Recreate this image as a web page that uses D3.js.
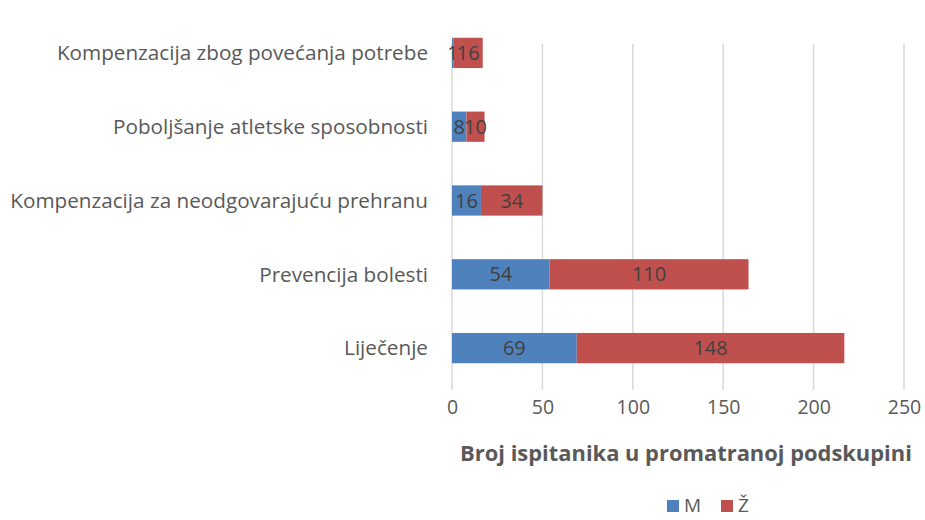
<!DOCTYPE html>
<html>
<head>
<meta charset="utf-8">
<script src="https://cdn.jsdelivr.net/npm/d3@7"></script>
<style>
  html, body { margin: 0; background: #fff; overflow: hidden; }
  svg { display: block; font-family: "Open Sans", Lato, sans-serif; }
</style>
</head>
<body>
<svg id="chart" width="925" height="520"></svg>
<script>
// categories listed top to bottom
var categories = ["Kompenzacija zbog povećanja potrebe", "Poboljšanje atletske sposobnosti",
  "Kompenzacija za neodgovarajuću prehranu", "Prevencija bolesti", "Liječenje"];
var valuesM = [1, 8, 16, 54, 69];
var valuesZ = [16, 10, 34, 110, 148];
var seriesNames = ["M", "Ž"];
var xTicks = [0, 50, 100, 150, 200, 250];

var colors = ["#4F81BD", "#C0504D"];
var svg = d3.select("#chart");

var x = d3.scaleLinear().domain([0, 250]).range([452, 904]);
var y = d3.scaleBand().domain(categories).range([16, 385]).paddingInner(0.59).paddingOuter(0.295);

// gridlines
svg.append("g").selectAll("line").data(xTicks).enter().append("line")
  .attr("x1", x).attr("x2", x).attr("y1", 44).attr("y2", 390)
  .attr("stroke", "#d9d9d9").attr("stroke-width", 1.5);

var rows = categories.map(function(c, i) { return {cat: c, m: valuesM[i], z: valuesZ[i]}; });
var stack = d3.stack().keys(["m", "z"])(rows);

stack.forEach(function(layer, li) {
  var g = svg.append("g");
  g.selectAll("rect").data(layer).enter().append("rect")
    .attr("x", function(d) { return x(d[0]); })
    .attr("width", function(d) { return x(d[1]) - x(d[0]); })
    .attr("y", function(d) { return y(d.data.cat); })
    .attr("height", y.bandwidth())
    .attr("fill", colors[li]);
  g.selectAll("text").data(layer).enter().append("text")
    .attr("x", function(d) { return (x(d[0]) + x(d[1])) / 2; })
    .attr("y", function(d) { return y(d.data.cat) + y.bandwidth() / 2; })
    .attr("dy", "0.35em")
    .attr("text-anchor", "middle")
    .attr("fill", "#404040")
    .style("font-size", "20px")
    .text(function(d) { return d[1] - d[0]; });
});

// category labels
svg.append("g").selectAll("text").data(categories).enter().append("text")
  .attr("x", 428)
  .attr("y", function(d) { return y(d) + y.bandwidth() / 2; })
  .attr("dy", "0.35em")
  .attr("text-anchor", "end")
  .attr("fill", "#595959")
  .style("font-size", "20.7px")
  .text(function(d) { return d; });

// x axis tick labels
var xAxis = d3.axisBottom(x).tickValues(xTicks).tickSize(0).tickPadding(0);
var ax = svg.append("g").attr("transform", "translate(0,400)").call(xAxis);
ax.select(".domain").remove();
ax.selectAll("text").attr("fill", "#595959").style("font-size", "19.5px")
  .style("font-family", "'Open Sans', Lato, sans-serif");

svg.append("text")
  .attr("x", 686).attr("y", 461)
  .attr("text-anchor", "middle")
  .attr("fill", "#595959")
  .style("font-size", "21.9px").style("font-weight", "bold")
  .text("Broj ispitanika u promatranoj podskupini");

// legend
var leg = svg.append("g").selectAll("g").data(seriesNames).enter().append("g")
  .attr("transform", function(d, i) { return "translate(" + (667 + i * 54) + ",500)"; });
leg.append("rect").attr("width", 12).attr("height", 12).attr("fill", function(d, i) { return colors[i]; });
leg.append("text").attr("x", 17).attr("y", 12)
  .attr("fill", "#595959").style("font-size", "19px").text(function(d) { return d; });
</script>
</body>
</html>
